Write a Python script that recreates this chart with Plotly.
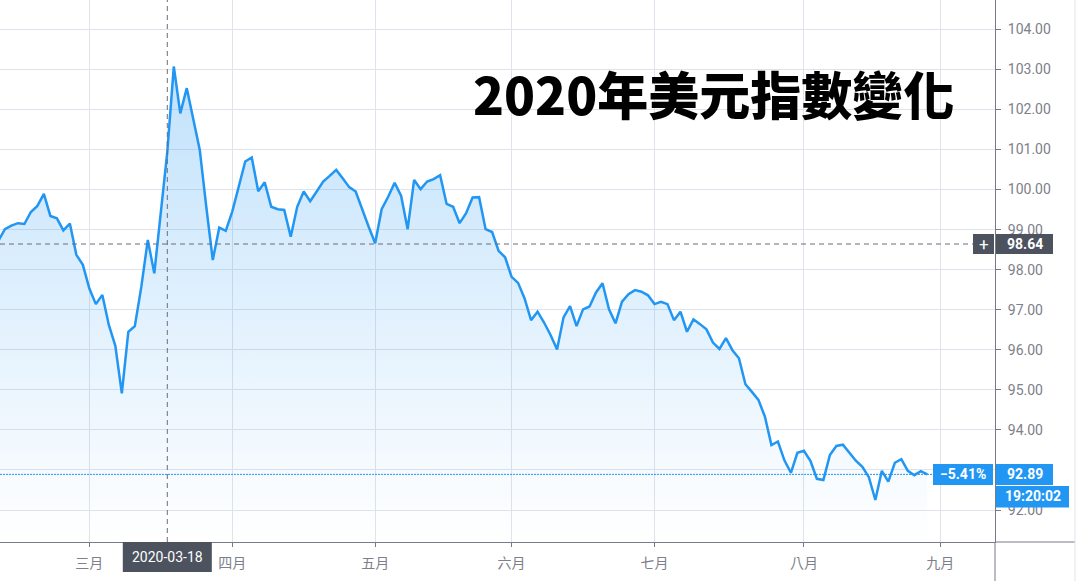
import pandas as pd
import plotly.graph_objects as go

# ---------------- data ----------------
start_date = "2020-02-11"
end_date = "2020-08-28"
dates = pd.bdate_range(start_date, end_date)

dxy = [
    98.72, 99.01, 99.10, 99.16, 99.14, 99.44, 99.59, 99.89, 99.34, 99.28,
    98.98, 99.15, 98.37, 98.12, 97.53, 97.14, 97.37, 96.62, 96.10, 94.91,
    96.45, 96.59, 97.57, 98.74, 97.91, 99.44, 100.94, 103.07, 101.90, 102.53,
    101.78, 100.99, 99.57, 98.24, 99.05, 98.97, 99.45, 100.07, 100.70, 100.80,
    99.96, 100.18, 99.57, 99.51, 99.49, 98.82, 99.57, 99.95, 99.71, 99.95,
    100.20, 100.34, 100.49, 100.28, 100.06, 99.95, 99.49, 99.07, 98.66, 99.51,
    99.82, 100.17, 99.84, 99.01, 100.24, 100.01, 100.20, 100.26, 100.36, 99.64,
    99.57, 99.16, 99.41, 99.80, 99.81, 99.01, 98.94, 98.47, 98.31, 97.82,
    97.67, 97.28, 96.74, 96.95, 96.68, 96.37, 96.01, 96.81, 97.09, 96.59,
    97.01, 97.08, 97.43, 97.66, 97.01, 96.66, 97.20, 97.39, 97.49, 97.45,
    97.36, 97.14, 97.20, 97.14, 96.74, 96.95, 96.45, 96.76, 96.64, 96.51,
    96.18, 96.02, 96.29, 95.99, 95.79, 95.14, 94.95, 94.75, 94.33, 93.62,
    93.71, 93.24, 92.93, 93.43, 93.48, 93.23, 92.78, 92.75, 93.37, 93.60,
    93.63, 93.42, 93.23, 93.08, 92.82, 92.25, 92.98, 92.71, 93.18, 93.27,
    92.98, 92.87, 92.97, 92.89,
]

month_tick_dates = ["2020-03-02", "2020-04-01", "2020-05-01", "2020-06-01",
                    "2020-07-01", "2020-08-03", "2020-09-01"]
month_labels = ["三月", "四月", "五月", "六月", "七月", "八月", "九月"]

price_ticks = [92, 93, 94, 95, 96, 97, 98, 99, 100, 101, 102, 103, 104]
# the 93.00 label sits under the last-price badge, so it is left blank
price_tick_labels = ["92.00", "", "94.00", "95.00", "96.00", "97.00", "98.00",
                     "99.00", "100.00", "101.00", "102.00", "103.00", "104.00"]

title_text = "2020年美元指數變化"
crosshair_date = "2020-03-18"
crosshair_price = 98.64
last_price = 92.89
change_text = "−5.41%"
time_text = "19:20:02"

# ---------------- styling ----------------
W, H = 1085, 581
PL, PR = 0, 995          # plot area in pixels
PT, PB = 0, 542
LINE_BLUE = "#2196f3"
GRID = "#e0e3eb"
AXIS = "#787b86"
TEXT = "#7d808a"
DARK = "#4c525e"
FONT = "Roboto, 'Noto Sans CJK TC', sans-serif"


def px(xp):
    return (xp - PL) / (PR - PL)


def py(yp):
    return (PB - yp) / (PB - PT)


fig = go.Figure()
fig.add_trace(go.Scatter(
    x=dates, y=dxy, mode="lines",
    line=dict(color=LINE_BLUE, width=2.5),
    fill="tozeroy",
    fillgradient=dict(type="vertical",
                      colorscale=[[0, "rgba(33,150,243,0.0)"],
                                  [1, "rgba(33,150,243,0.28)"]],
                      start=91.2, stop=103.1),
    hoverinfo="skip", showlegend=False,
))

shapes = []
# crosshair vertical
shapes.append(dict(type="line", xref="x", yref="paper", x0=crosshair_date, x1=crosshair_date,
                   y0=0, y1=1, line=dict(color="#6a6d78", width=1, dash="5px,4px")))
# crosshair horizontal
shapes.append(dict(type="line", xref="paper", yref="y", x0=0, x1=px(973),
                   y0=crosshair_price, y1=crosshair_price,
                   line=dict(color="#6a6d78", width=1, dash="5px,4px")))
# last price dotted line
shapes.append(dict(type="line", xref="paper", yref="y", x0=0, x1=px(933),
                   y0=last_price, y1=last_price,
                   line=dict(color=LINE_BLUE, width=1, dash="2px,1px")))
# axis line extensions
shapes.append(dict(type="line", xref="paper", yref="paper", x0=1, x1=px(1075), y0=0, y1=0,
                   line=dict(color=AXIS, width=1)))
shapes.append(dict(type="line", xref="paper", yref="paper", x0=1, x1=1, y0=0, y1=py(H),
                   line=dict(color=AXIS, width=1)))
# outer right border
shapes.append(dict(type="line", xref="paper", yref="paper", x0=px(1075), x1=px(1075),
                   y0=py(H), y1=1, line=dict(color=GRID, width=1)))


# label boxes
def box(x0p, x1p, yanchor, y0, y1, color):
    return dict(type="rect", xref="paper", yref="y", x0=px(x0p), x1=px(x1p),
                ysizemode="pixel", yanchor=yanchor, y0=y0, y1=y1,
                fillcolor=color, line=dict(width=0), layer="above")


shapes.append(box(973, 994, crosshair_price, -10, 10, DARK))
shapes.append(box(996, 1053, crosshair_price, -10, 10, DARK))
shapes.append(box(933, 993, last_price, -10.5, 10.5, LINE_BLUE))
shapes.append(box(996, 1053, last_price, -10.5, 10.5, LINE_BLUE))
shapes.append(box(996, 1069, last_price, -33, -11.5, LINE_BLUE))
# date label box
shapes.append(dict(type="rect", xref="x", yref="paper", xsizemode="pixel", xanchor=crosshair_date,
                   x0=-44.5, x1=44.5, ysizemode="pixel", yanchor=0, y0=-30, y1=0,
                   fillcolor=DARK, line=dict(width=0), layer="above"))

annotations = [
    dict(text=title_text, xref="paper", yref="paper", x=px(713), y=py(93),
         showarrow=False, xanchor="center", yanchor="middle",
         font=dict(family="'Noto Sans CJK TC', sans-serif", size=51, color="#000000",
                   weight=900)),
    dict(text="+", xref="paper", yref="y", x=px(983.5), y=crosshair_price, showarrow=False,
         xanchor="center", yanchor="middle", font=dict(family=FONT, size=17, color="#ffffff")),
    dict(text=f"<b>{crosshair_price:.2f}</b>", xref="paper", yref="y", x=px(1024.5), y=crosshair_price,
         showarrow=False, xanchor="center", yanchor="middle",
         font=dict(family=FONT, size=14, color="#ffffff")),
    dict(text=f"<b>{change_text}</b>", xref="paper", yref="y", x=px(963), y=last_price,
         showarrow=False, xanchor="center", yanchor="middle",
         font=dict(family=FONT, size=14, color="#ffffff")),
    dict(text=f"<b>{last_price:.2f}</b>", xref="paper", yref="y", x=px(1024.5), y=last_price,
         showarrow=False, xanchor="center", yanchor="middle",
         font=dict(family=FONT, size=14, color="#ffffff")),
    dict(text=f"<b>{time_text}</b>", xref="paper", yref="y", x=px(1032.5), y=last_price, yshift=-22,
         showarrow=False, xanchor="center", yanchor="middle",
         font=dict(family=FONT, size=14, color="#ffffff")),
    dict(text=crosshair_date, xref="x", yref="paper", x=crosshair_date, y=0, yshift=-15,
         showarrow=False, xanchor="center", yanchor="middle",
         font=dict(family=FONT, size=14, color="#ffffff")),
]

fig.update_layout(
    width=W, height=H, autosize=False,
    margin=dict(l=PL, r=W - PR, t=PT, b=H - PB, pad=0),
    paper_bgcolor="#ffffff", plot_bgcolor="#ffffff",
    font=dict(family=FONT, size=14, color=TEXT),
    shapes=shapes, annotations=annotations,
    xaxis=dict(
        type="date",
        range=["2020-02-11 05:54", "2020-09-11 10:05"],
        rangebreaks=[dict(bounds=["sat", "mon"])],
        tickvals=month_tick_dates, ticktext=month_labels,
        showgrid=True, gridcolor=GRID, gridwidth=1,
        ticks="outside", ticklen=4, tickcolor=AXIS,
        showline=True, linecolor=AXIS, linewidth=1,
        tickfont=dict(size=14, color=TEXT), ticklabelstandoff=4,
        zeroline=False, fixedrange=True,
    ),
    yaxis=dict(
        side="right",
        range=[91.202, 104.731],
        tickvals=price_ticks, ticktext=price_tick_labels,
        showgrid=True, gridcolor=GRID, gridwidth=1,
        ticks="outside", ticklen=5, tickcolor=AXIS,
        showline=True, linecolor=AXIS, linewidth=1,
        tickfont=dict(size=14, color=TEXT), ticklabelstandoff=4,
        zeroline=False, fixedrange=True,
    ),
)

fig.write_html("out.html", config={"displayModeBar": False},
               post_script="document.body.style.margin='0';")
